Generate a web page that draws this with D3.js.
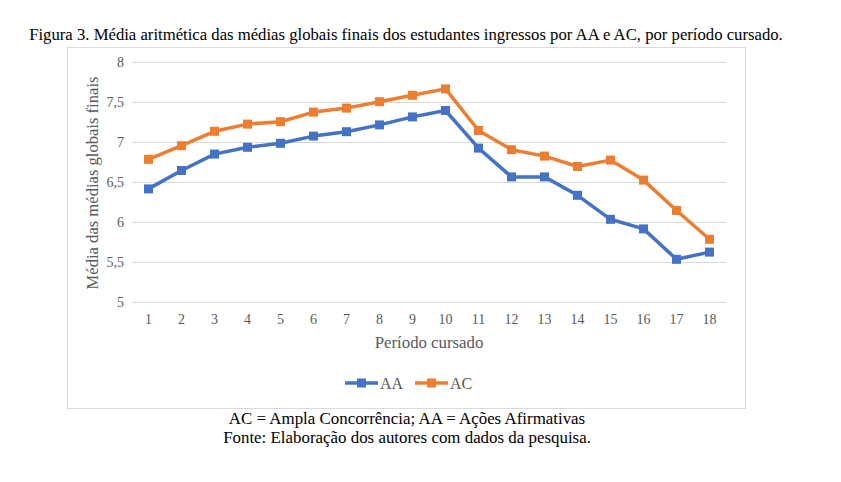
<!DOCTYPE html>
<html><head><meta charset="utf-8">
<script src="https://cdn.jsdelivr.net/npm/d3@7"></script>
<style>body{margin:0;background:#fff;} svg{display:block;}</style>
</head><body>
<script>
const periods = ["1","2","3","4","5","6","7","8","9","10","11","12","13","14","15","16","17","18"];
const aaValues = [6.42,6.65,6.855,6.94,6.99,7.08,7.135,7.22,7.32,7.40,6.93,6.57,6.57,6.34,6.04,5.92,5.54,5.63];
const acValues = [6.79,6.96,7.14,7.23,7.26,7.38,7.43,7.51,7.59,7.67,7.15,6.91,6.83,6.70,6.78,6.53,6.15,5.79];
const yTicks = [5,5.5,6,6.5,7,7.5,8];
const seriesNames = ["AA","AC"];
const colors = ["#4472C4","#ED7D31"];

const W=841,H=482;
const svg=d3.select("body").append("svg").attr("width",W).attr("height",H);
const serif="'Liberation Serif','Times New Roman',serif";

svg.append("text").attr("x",406).attr("y",40).attr("text-anchor","middle")
  .attr("font-family",serif).attr("font-size",16.7).attr("fill","#000")
  .text("Figura 3. Média aritmética das médias globais finais dos estudantes ingressos por AA e AC, por período cursado.");

svg.append("rect").attr("x",67.5).attr("y",47.5).attr("width",678).attr("height",361)
  .attr("fill","#fff").attr("stroke","#d9d9d9").attr("stroke-width",1);

const x=d3.scaleBand().domain(periods).range([132,726]);
const y=d3.scaleLinear().domain([5,8]).range([302.5,62.5]);

// grid
svg.append("g").selectAll("line").data(yTicks).join("line")
  .attr("x1",132).attr("x2",726).attr("y1",d=>y(d)).attr("y2",d=>y(d))
  .attr("stroke","#d9d9d9").attr("stroke-width",1);

// y axis
const ya=svg.append("g").attr("transform","translate(124,0)")
  .call(d3.axisLeft(y).tickValues(yTicks).tickSize(0).tickPadding(0).tickFormat(d=>String(d).replace(".",",")));
ya.select(".domain").remove();
ya.selectAll("text").attr("font-family",serif).attr("font-size",14).attr("fill","#595959").attr("dx","0");

// x axis
const xa=svg.append("g").attr("transform","translate(0,310)")
  .call(d3.axisBottom(x).tickSize(0).tickPadding(4));
xa.select(".domain").remove();
xa.selectAll("text").attr("font-family",serif).attr("font-size",14).attr("fill","#595959");

svg.append("text").attr("x",429).attr("y",348).attr("text-anchor","middle")
  .attr("font-family",serif).attr("font-size",16.8).attr("fill","#595959").text("Período cursado");
svg.append("text").attr("transform","translate(98,183) rotate(-90)").attr("text-anchor","middle")
  .attr("font-family",serif).attr("font-size",16.6).attr("fill","#595959").text("Média das médias globais finais");

const line=d3.line().x((d,i)=>x(periods[i])+x.bandwidth()/2).y(d=>y(d));
[aaValues,acValues].forEach((vals,k)=>{
  const g=svg.append("g");
  g.append("path").datum(vals).attr("d",line).attr("fill","none")
   .attr("stroke",colors[k]).attr("stroke-width",3.5).attr("stroke-linejoin","round");
  g.selectAll("rect").data(vals).join("rect")
   .attr("x",(d,i)=>x(periods[i])+x.bandwidth()/2-4.5).attr("y",d=>y(d)-4.5)
   .attr("width",9).attr("height",9).attr("fill",colors[k]);
});

// legend
const legX=[345,415];
seriesNames.forEach((n,k)=>{
  const g=svg.append("g").attr("transform",`translate(${legX[k]},383)`);
  g.append("line").attr("x1",0).attr("x2",33).attr("stroke",colors[k]).attr("stroke-width",3.5);
  g.append("rect").attr("x",12).attr("y",-4.5).attr("width",9).attr("height",9).attr("fill",colors[k]);
  g.append("text").attr("x",35).attr("y",5.5).attr("font-family",serif).attr("font-size",16)
   .attr("fill","#595959").text(n);
});

svg.append("text").attr("x",407).attr("y",424).attr("text-anchor","middle")
  .attr("font-family",serif).attr("font-size",16.9).attr("fill","#000")
  .text("AC = Ampla Concorrência; AA = Ações Afirmativas");
svg.append("text").attr("x",407).attr("y",443).attr("text-anchor","middle")
  .attr("font-family",serif).attr("font-size",16.9).attr("fill","#000")
  .text("Fonte: Elaboração dos autores com dados da pesquisa.");
</script>
</body></html>
